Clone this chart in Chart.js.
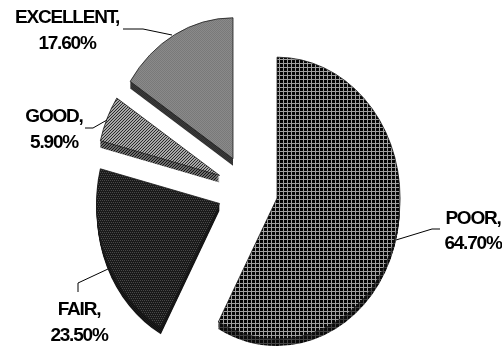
<!DOCTYPE html>
<html>
<head>
<meta charset="utf-8">
<style>
  html, body { margin: 0; padding: 0; background: #fff; }
  canvas { display: block; }
</style>
<script src="https://cdn.jsdelivr.net/npm/chart.js@4/dist/chart.umd.min.js"></script>
</head>
<body>
<canvas id="ratings" width="502" height="350"></canvas>
<script>
// ---- Data ----
const categories = ["POOR", "FAIR", "GOOD", "EXCELLENT"];
const shares = [64.7, 23.5, 5.9, 17.6];

// ---- Look ----
const SQUASH = 1.146;     // pie is a little taller than wide
const EXPLODE = 30.5;     // how far each slice is pulled out
const DEPTH = 7;          // thickness of the pie

const LABEL_SPOTS = [
  { x: 473, y: 224, dy: 25 },
  { x: 79, y: 315, dy: 26 },
  { x: 54, y: 122, dy: 26 },
  { x: 67, y: 23, dy: 26 }
];

const LEADERS = [
  [[440, 229], [432, 229], [396, 240]],
  [[78, 292], [78, 283], [108, 269]],
  [[85, 128], [93, 128], [107, 120]],
  [[123, 29], [143, 29], [172, 35]]
];

// ---- Fill patterns ----
function tile(rows, colors) {
  const c = document.createElement("canvas");
  c.width = rows[0].length;
  c.height = rows.length;
  const g = c.getContext("2d");
  rows.forEach((row, y) => {
    [...row].forEach((k, x) => {
      g.fillStyle = colors[k];
      g.fillRect(x, y, 1, 1);
    });
  });
  return g.createPattern(c, "repeat");
}

const GRID = ["aaab", "aaab", "aaab", "bbbb"];
const CHECK = ["ab", "ba"];
const DOTS = ["baba", "aaaa", "abab", "aaaa"];
const HATCH = ["abb", "bba", "bab"];

const topFills = [
  tile(GRID, { a: "#060606", b: "#a0a0a0" }),
  tile(DOTS, { a: "#1a1a1a", b: "#484848" }),
  tile(HATCH, { a: "#2a2a2a", b: "#a8a8a8" }),
  tile(CHECK, { a: "#797979", b: "#8a8a8a" })
];

const sideFills = [
  tile(GRID, { a: "#0a0a0a", b: "#444444" }),
  tile(CHECK, { a: "#101010", b: "#1c1c1c" }),
  tile(HATCH, { a: "#141414", b: "#6c6c6c" }),
  tile(CHECK, { a: "#2e2e2e", b: "#3a3a3a" })
];

// ---- Slices ----
function slicePath(ctx, arc, shiftY) {
  const mid = (arc.startAngle + arc.endAngle) / 2;
  ctx.save();
  ctx.translate(arc.x + Math.cos(mid) * EXPLODE, arc.y + shiftY + Math.sin(mid) * EXPLODE * SQUASH);
  ctx.scale(1, SQUASH);
  ctx.beginPath();
  ctx.moveTo(0, 0);
  ctx.arc(0, 0, arc.outerRadius, arc.startAngle, arc.endAngle);
  ctx.closePath();
  ctx.restore();
}

const tiltedPie = {
  id: "tiltedPie",
  beforeDatasetDraw(chart, args) {
    const ctx = chart.ctx;
    const arcs = args.meta.data;
    arcs.forEach((arc, i) => {
      ctx.fillStyle = sideFills[i];
      for (let d = DEPTH; d > 0; d--) {
        slicePath(ctx, arc, d);
        ctx.fill();
      }
      slicePath(ctx, arc, 0);
      ctx.fillStyle = topFills[i];
      ctx.fill();
      ctx.strokeStyle = "#1a1a1a";
      ctx.lineWidth = 0.8;
      ctx.stroke();
    });
    return false;
  },
  afterDraw(chart) {
    const ctx = chart.ctx;
    ctx.save();
    ctx.strokeStyle = "#000";
    ctx.lineWidth = 1;
    LEADERS.forEach(pts => {
      ctx.beginPath();
      pts.forEach((p, i) => (i ? ctx.lineTo(p[0], p[1]) : ctx.moveTo(p[0], p[1])));
      ctx.stroke();
    });
    ctx.fillStyle = "#000";
    ctx.font = 'bold 19px "Liberation Sans", Arial, sans-serif';
    ctx.letterSpacing = "-1.2px";
    ctx.textAlign = "center";
    ctx.textBaseline = "alphabetic";
    categories.forEach((name, i) => {
      const s = LABEL_SPOTS[i];
      ctx.fillText(name + ",", s.x, s.y);
      ctx.fillText(shares[i].toFixed(2) + "%", s.x, s.y + s.dy);
    });
    ctx.restore();
  }
};

// ---- Chart ----
new Chart(document.getElementById("ratings").getContext("2d"), {
  type: "pie",
  data: {
    labels: categories,
    datasets: [{ data: shares, borderWidth: 0 }]
  },
  options: {
    responsive: false,
    animation: false,
    radius: 123,
    layout: { padding: { left: 0, right: 7, top: 29, bottom: 0 } },
    plugins: {
      legend: { display: false },
      tooltip: { enabled: false }
    }
  },
  plugins: [tiltedPie]
});
</script>
</body>
</html>
